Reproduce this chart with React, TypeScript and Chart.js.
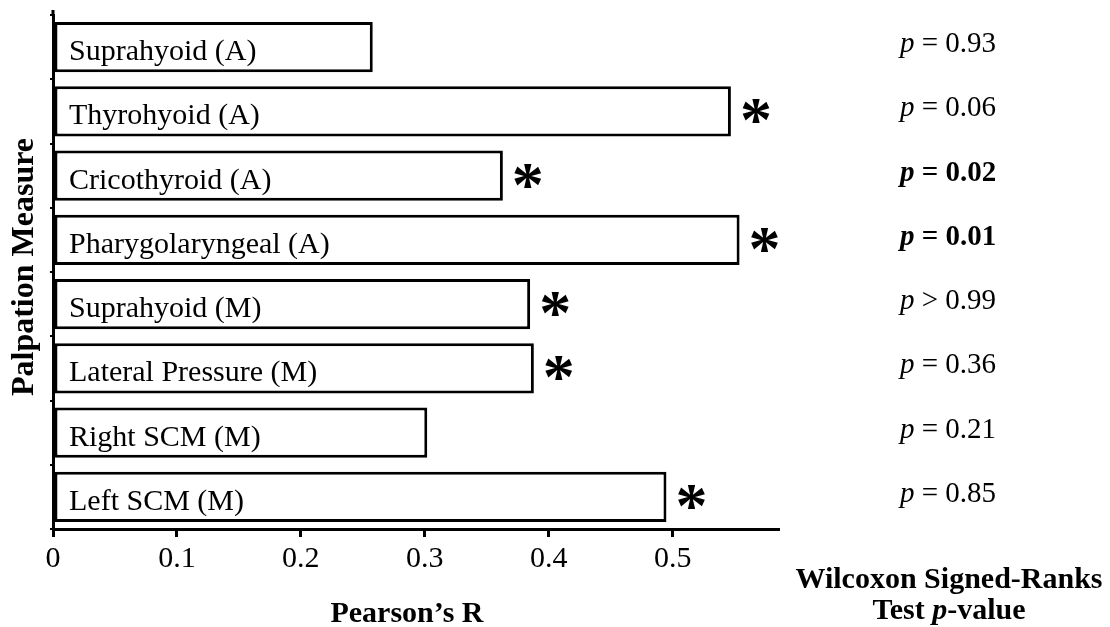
import React, { useEffect, useRef } from "react";
import { Chart, registerables } from "chart.js";

Chart.register(...registerables);

const categories = [
  "Suprahyoid (A)",
  "Thyrohyoid (A)",
  "Cricothyroid (A)",
  "Pharygolaryngeal (A)",
  "Suprahyoid (M)",
  "Lateral Pressure (M)",
  "Right SCM (M)",
  "Left SCM (M)",
];
const pearsonR = [0.258, 0.547, 0.363, 0.554, 0.385, 0.388, 0.302, 0.495];
const significant = [false, true, true, true, true, true, false, true];
const pOperators = ["=", "=", "=", "=", ">", "=", "=", "="];
const pNumbers = ["0.93", "0.06", "0.02", "0.01", "0.99", "0.36", "0.21", "0.85"];
const pBold = [false, false, true, true, false, false, false, false];
const xTickValues = [0, 0.1, 0.2, 0.3, 0.4, 0.5];

const xTitle = "Pearson\u2019s R";
const yTitle = "Palpation Measure";
const rightTitle1 = "Wilcoxon Signed-Ranks";
const rightTitle2a = "Test ";
const rightTitle2b = "p";
const rightTitle2c = "-value";

const SERIF = '"Liberation Serif", "Times New Roman", Times, serif';

const annotationPlugin = {
  id: "annotations",
  afterDatasetsDraw(chart: any) {
    const ctx: CanvasRenderingContext2D = chart.ctx;
    const meta = chart.getDatasetMeta(0);
    const xScale = chart.scales.x;
    const zeroX = xScale.getPixelForValue(0);
    const area = chart.chartArea;
    ctx.save();
    ctx.fillStyle = "#000";
    ctx.strokeStyle = "#000";
    // extend y axis line slightly above plot area
    ctx.lineWidth = 3;
    ctx.beginPath();
    ctx.moveTo(area.left, area.top);
    ctx.lineTo(area.left, area.top - 5);
    ctx.stroke();

    meta.data.forEach((bar: any, i: number) => {
      const cy = bar.y;
      // label inside bar
      ctx.font = `30px ${SERIF}`;
      ctx.textAlign = "left";
      ctx.textBaseline = "alphabetic";
      ctx.fillText(categories[i], zeroX + 16, cy + 13);
      // asterisk
      if (significant[i]) {
        ctx.font = `bold 64px ${SERIF}`;
        const m = ctx.measureText("*");
        const asc = m.actualBoundingBoxAscent;
        const desc = m.actualBoundingBoxDescent;
        const w = m.actualBoundingBoxRight + m.actualBoundingBoxLeft;
        const cx = bar.x + 25;
        const baseY = cy + (asc - desc) / 2;
        ctx.fillText("*", cx - w / 2 + m.actualBoundingBoxLeft, baseY);
      }
      // p-value
      const px = 900;
      const by = cy + 5;
      const weight = pBold[i] ? "bold " : "";
      ctx.font = `italic ${weight}29px ${SERIF}`;
      ctx.fillText("p", px, by);
      const off = ctx.measureText("p").width;
      ctx.font = `${weight}29px ${SERIF}`;
      const rest = ` ${pOperators[i]} ${pNumbers[i]}`;
      ctx.fillText(rest, px + off, by);
    });

    // x title
    ctx.font = `bold 30px ${SERIF}`;
    ctx.textAlign = "center";
    ctx.textBaseline = "alphabetic";
    ctx.fillText(xTitle, 407, 622);

    // right title
    ctx.fillText(rightTitle1, 949, 588);
    ctx.textAlign = "left";
    const wA = ctx.measureText(rightTitle2a).width;
    const wC = ctx.measureText(rightTitle2c).width;
    ctx.font = `italic bold 30px ${SERIF}`;
    const wB = ctx.measureText(rightTitle2b).width;
    const total = wA + wB + wC;
    let sx = 949 - total / 2;
    ctx.font = `bold 30px ${SERIF}`;
    ctx.fillText(rightTitle2a, sx, 619);
    sx += wA;
    ctx.font = `italic bold 30px ${SERIF}`;
    ctx.fillText(rightTitle2b, sx, 619);
    sx += wB;
    ctx.font = `bold 30px ${SERIF}`;
    ctx.fillText(rightTitle2c, sx, 619);

    // y title
    ctx.save();
    ctx.translate(33, 267);
    ctx.rotate(-Math.PI / 2);
    ctx.font = `bold 32px ${SERIF}`;
    ctx.textAlign = "center";
    ctx.textBaseline = "alphabetic";
    ctx.fillText(yTitle, 0, 0);
    ctx.restore();

    ctx.restore();
  },
};

export default function App() {
  const canvasRef = useRef<HTMLCanvasElement | null>(null);

  useEffect(() => {
    if (!canvasRef.current) return;
    const chart = new Chart(canvasRef.current, {
      type: "bar",
      data: {
        labels: categories,
        datasets: [
          {
            data: pearsonR,
            backgroundColor: "#ffffff",
            borderColor: "#000000",
            borderWidth: 3,
            borderSkipped: false,
            categoryPercentage: 1,
            barPercentage: 0.78,
          },
        ],
      },
      options: {
        indexAxis: "y",
        responsive: false,
        animation: false,
        devicePixelRatio: 1,
        layout: { padding: { top: 15, right: 332, left: 0, bottom: 0 } },
        plugins: {
          legend: { display: false },
          tooltip: { enabled: false },
          title: { display: false },
        },
        scales: {
          x: {
            type: "linear",
            min: 0,
            max: 0.585,
            afterFit: (scale: any) => {
              scale.height = 98;
            },
            afterBuildTicks: (scale: any) => {
              scale.ticks = xTickValues.map((v) => ({ value: v }));
            },
            ticks: {
              includeBounds: false,
              color: "#000",
              font: { family: SERIF, size: 30 },
              padding: 4,
              maxRotation: 0,
              callback: (v: any) => (Number(v) === 0 ? "0" : Number(v).toFixed(1)),
            },
            grid: {
              drawOnChartArea: false,
              drawTicks: true,
              tickLength: 8,
              color: "#000",
              lineWidth: 3,
            },
            border: { display: true, color: "#000", width: 3 },
          },
          y: {
            type: "category",
            afterFit: (scale: any) => {
              scale.width = 53;
            },
            ticks: { display: false },
            grid: {
              drawOnChartArea: false,
              drawTicks: true,
              tickLength: 3,
              color: "#000",
              lineWidth: 2,
            },
            border: { display: true, color: "#000", width: 3 },
          },
        },
      },
      plugins: [annotationPlugin],
    } as any);
    return () => chart.destroy();
  }, []);

  return (
    <div style={{ position: "fixed", left: 0, top: 0, width: 1110, height: 627, background: "#fff" }}>
      <canvas ref={canvasRef} width={1110} height={627} style={{ display: "block" }} />
    </div>
  );
}
